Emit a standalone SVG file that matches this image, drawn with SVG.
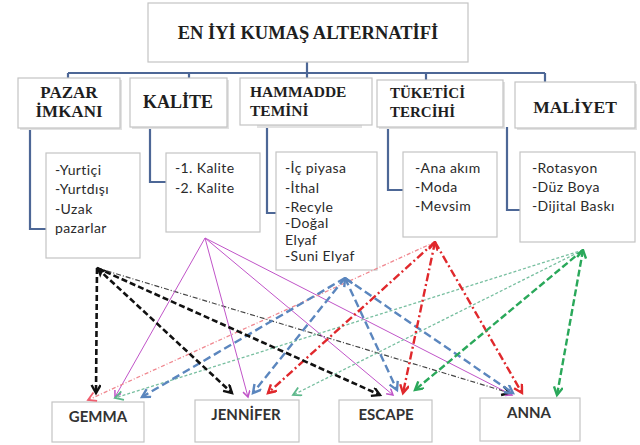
<svg xmlns="http://www.w3.org/2000/svg" width="640" height="445" viewBox="0 0 640 445">
<defs>
<style>
.box{fill:#fff;stroke:#c4c4c4;stroke-width:1.2}
.sh{fill:#e2e2e2}
.t{font-family:"Liberation Serif","Times New Roman",serif;font-weight:bold;fill:#1e1e1e}
.s{font-family:Lato,"Liberation Sans",sans-serif;font-size:14px;fill:#2a2a2a;letter-spacing:0.4px}
.b{font-family:Lato,"Liberation Sans",sans-serif;font-size:15px;font-weight:bold;fill:#333;text-anchor:middle}
.tree{fill:none;stroke:#4d6796;stroke-width:2.2}
.k{fill:none;stroke:#111;stroke-width:2.6;stroke-dasharray:6 3}
.kt{fill:none;stroke:#444;stroke-width:1.2;stroke-dasharray:5 2 1 2}
.m{fill:none;stroke:#c054c8;stroke-width:1}
.r{fill:none;stroke:#e0282c;stroke-width:2.4;stroke-dasharray:8 3 2 3}
.rt{fill:none;stroke:#f08890;stroke-width:1.3;stroke-dasharray:4 2 1 2}
.bl{fill:none;stroke:#5b86be;stroke-width:2.4;stroke-dasharray:8 4}
.g{fill:none;stroke:#2aa85a;stroke-width:2.4;stroke-dasharray:7 3}
.gt{fill:none;stroke:#78bfa0;stroke-width:1.3;stroke-dasharray:3 2}
</style>
<marker id="ak" markerUnits="userSpaceOnUse" markerWidth="14" markerHeight="14" refX="9" refY="5" orient="auto"><path d="M1,0.5 L9,5 L1,9.5" fill="none" stroke="#111" stroke-width="2.4"/></marker>
<marker id="akf" markerUnits="userSpaceOnUse" markerWidth="14" markerHeight="14" refX="1" refY="5" orient="auto"><path d="M0,5 L10,0 L8,5 L10,10 Z" fill="#111"/></marker>
<marker id="am" markerUnits="userSpaceOnUse" markerWidth="12" markerHeight="12" refX="7" refY="4" orient="auto"><path d="M1,0.5 L7,4 L1,7.5" fill="none" stroke="#c054c8" stroke-width="1.5"/></marker>
<marker id="ar" markerUnits="userSpaceOnUse" markerWidth="14" markerHeight="14" refX="9" refY="5" orient="auto"><path d="M1,0.5 L9,5 L1,9.5" fill="none" stroke="#e0282c" stroke-width="2.4"/></marker>
<marker id="ars" markerUnits="userSpaceOnUse" markerWidth="14" markerHeight="14" refX="1" refY="5" orient="auto"><path d="M9,0.5 L1,5 L9,9.5" fill="none" stroke="#e0282c" stroke-width="2.4"/></marker>
<marker id="art" markerUnits="userSpaceOnUse" markerWidth="14" markerHeight="14" refX="9" refY="5" orient="auto"><path d="M1,0.5 L9,5 L1,9.5" fill="none" stroke="#f06070" stroke-width="1.8"/></marker>
<marker id="ab" markerUnits="userSpaceOnUse" markerWidth="14" markerHeight="14" refX="9" refY="5" orient="auto"><path d="M1,0.5 L9,5 L1,9.5" fill="none" stroke="#5b86be" stroke-width="2.4"/></marker>
<marker id="abs" markerUnits="userSpaceOnUse" markerWidth="14" markerHeight="14" refX="1" refY="5" orient="auto"><path d="M9,0.5 L1,5 L9,9.5" fill="none" stroke="#5b86be" stroke-width="2.4"/></marker>
<marker id="ag" markerUnits="userSpaceOnUse" markerWidth="14" markerHeight="14" refX="9" refY="5" orient="auto"><path d="M1,0.5 L9,5 L1,9.5" fill="none" stroke="#2aa85a" stroke-width="2.4"/></marker>
<marker id="ags" markerUnits="userSpaceOnUse" markerWidth="14" markerHeight="14" refX="1" refY="5" orient="auto"><path d="M9,0.5 L1,5 L9,9.5" fill="none" stroke="#2aa85a" stroke-width="2.4"/></marker>
<marker id="agt" markerUnits="userSpaceOnUse" markerWidth="14" markerHeight="14" refX="9" refY="5" orient="auto"><path d="M1,0.5 L9,5 L1,9.5" fill="none" stroke="#5cb88a" stroke-width="1.8"/></marker>
</defs>
<rect width="640" height="445" fill="#fff"/>

<g id="tree-connectors">
<path class="tree" d="M307,62 V80 M68,73 H545 M68,73 V78 M189,73 V78 M426,73 V80 M545,73 V82"/>
<path class="tree" d="M30,128 V229 H46"/>
<path class="tree" d="M150,127 V182 H166"/>
<path class="tree" d="M267,127 V213 H276"/>
<path class="tree" d="M388,127 V190 H403"/>
<path class="tree" d="M507,127 V210 H520"/>
</g>

<g id="title">
<rect class="box" x="148" y="3" width="320" height="59"/>
<text class="t" x="308" y="39" font-size="18.5" text-anchor="middle">EN İYİ KUMAŞ ALTERNATİFİ</text>
</g>

<g id="pazar">
<rect class="sh" x="20" y="80" width="102" height="50"/>
<rect class="box" x="18" y="78" width="102" height="50"/>
<text class="t" x="69" y="98" font-size="17" text-anchor="middle">PAZAR</text>
<text class="t" x="69" y="117" font-size="17" text-anchor="middle">İMKANI</text>
</g>
<g id="kalite">
<rect class="sh" x="132" y="80" width="97" height="49"/>
<rect class="box" x="130" y="78" width="97" height="49"/>
<text class="t" x="178" y="108" font-size="18" text-anchor="middle">KALİTE</text>
</g>
<g id="hammadde">
<rect class="sh" x="257" y="125" width="105" height="3"/>
<rect class="box" x="240" y="78" width="132" height="47"/>
<text class="t" x="250" y="97" font-size="15.5">HAMMADDE</text>
<text class="t" x="250" y="116" font-size="15.5">TEMİNİ</text>
</g>
<g id="tuketici">
<rect class="sh" x="379" y="82" width="126" height="47"/>
<rect class="box" x="377" y="80" width="126" height="47"/>
<text class="t" x="390" y="98" font-size="15">TÜKETİCİ</text>
<text class="t" x="390" y="117" font-size="15">TERCİHİ</text>
</g>
<g id="maliyet">
<rect class="sh" x="517" y="84" width="120" height="46"/>
<rect class="box" x="515" y="82" width="120" height="46"/>
<text class="t" x="575" y="113" font-size="17.5" text-anchor="middle">MALİYET</text>
</g>

<g id="pazar-items">
<rect class="box" x="46" y="153" width="94" height="105"/>
<text class="s" x="55" y="175">-Yurtiçi</text>
<text class="s" x="55" y="194">-Yurtdışı</text>
<text class="s" x="55" y="214">-Uzak</text>
<text class="s" x="55" y="233">pazarlar</text>
</g>
<g id="kalite-items">
<rect class="box" x="166" y="153" width="94" height="79"/>
<text class="s" x="175" y="173">-1. Kalite</text>
<text class="s" x="175" y="193">-2. Kalite</text>
</g>
<g id="hammadde-items">
<rect class="box" x="276" y="152" width="101" height="118"/>
<text class="s" x="285" y="173">-İç piyasa</text>
<text class="s" x="285" y="193">-İthal</text>
<text class="s" x="285" y="212">-Recyle</text>
<text class="s" x="285" y="228">-Doğal</text>
<text class="s" x="285" y="245">Elyaf</text>
<text class="s" x="285" y="261">-Suni Elyaf</text>
</g>
<g id="tuketici-items">
<rect class="box" x="403" y="152" width="94" height="85"/>
<text class="s" x="415" y="173">-Ana akım</text>
<text class="s" x="415" y="192">-Moda</text>
<text class="s" x="415" y="211">-Mevsim</text>
</g>
<g id="maliyet-items">
<rect class="box" x="520" y="152" width="115" height="90"/>
<text class="s" x="532" y="173">-Rotasyon</text>
<text class="s" x="532" y="192">-Düz  Boya</text>
<text class="s" x="532" y="211">-Dijital Baskı</text>
</g>

<g id="gemma"><rect class="box" x="52" y="402" width="92" height="40"/><text class="b" x="98" y="422">GEMMA</text></g>
<g id="jennifer"><rect class="box" x="195" y="400" width="104" height="42"/><text class="b" x="246" y="420">JENNİFER</text></g>
<g id="escape"><rect class="box" x="339" y="400" width="93" height="42"/><text class="b" x="386" y="420">ESCAPE</text></g>
<g id="anna"><rect class="box" x="480" y="398" width="100" height="43"/><text class="b" x="529" y="418">ANNA</text></g>

<g id="connectors">
<line class="kt" x1="97" y1="268" x2="510" y2="393" marker-end="url(#ak)"/>
<line class="m" x1="205" y1="238" x2="115" y2="397" marker-end="url(#am)"/>
<line class="m" x1="205" y1="238" x2="248" y2="397" marker-end="url(#am)"/>
<line class="m" x1="205" y1="238" x2="393" y2="395" marker-end="url(#am)"/>
<line class="m" x1="205" y1="238" x2="512" y2="395" marker-end="url(#am)"/>
<line class="gt" x1="583" y1="250" x2="115" y2="398" marker-end="url(#agt)"/>
<line class="gt" x1="583" y1="250" x2="293" y2="395" marker-end="url(#agt)"/>
<line class="rt" x1="435" y1="242" x2="88" y2="400" marker-end="url(#art)"/>
<line class="bl" x1="345" y1="278" x2="142" y2="397" marker-end="url(#ab)"/>
<line class="bl" x1="345" y1="278" x2="253" y2="393" marker-end="url(#ab)"/>
<line class="bl" x1="345" y1="278" x2="397" y2="390" marker-end="url(#ab)" marker-start="url(#abs)"/>
<line class="bl" x1="345" y1="278" x2="513" y2="393" marker-end="url(#ab)"/>
<line class="r" x1="435" y1="242" x2="268" y2="393" marker-end="url(#ar)"/>
<line class="r" x1="435" y1="242" x2="403" y2="393" marker-end="url(#ar)" marker-start="url(#ars)"/>
<line class="r" x1="435" y1="242" x2="522" y2="393" marker-end="url(#ar)"/>
<line class="g" x1="583" y1="250" x2="415" y2="390" marker-end="url(#ag)"/>
<line class="g" x1="583" y1="250" x2="557" y2="395" marker-end="url(#ag)" marker-start="url(#ags)"/>
<line class="k" x1="97" y1="268" x2="96" y2="393" marker-end="url(#ak)"/>
<line class="k" x1="97" y1="268" x2="232" y2="393" marker-end="url(#ak)" marker-start="url(#akf)"/>
<line class="k" x1="97" y1="268" x2="380" y2="395" marker-end="url(#ak)"/>
</g>
</svg>
